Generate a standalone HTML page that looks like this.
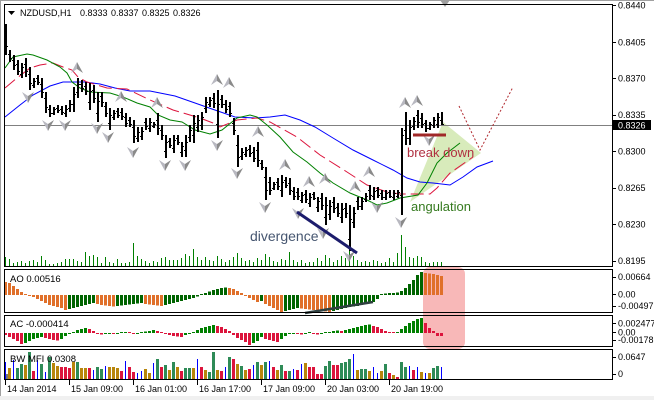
<!DOCTYPE html>
<html><head><meta charset="utf-8"><style>
html,body{margin:0;padding:0;background:#fff;}
svg{display:block;}
text{font-family:"Liberation Sans",Arial,sans-serif;}
</style></head><body>
<svg width="654" height="400" viewBox="0 0 654 400" xmlns="http://www.w3.org/2000/svg">
<defs>
<g id="fu"><polygon points="0,-6 0,1 -6,5" fill="#b8b8c0"/><polygon points="0,-6 6,5 0,1" fill="#8a8a8a"/></g>
<g id="fd"><polygon points="0,6 0,-1 -6,-5" fill="#b8b8c0"/><polygon points="0,6 6,-5 0,-1" fill="#8a8a8a"/></g>
<path id="bars" fill="none" stroke="#000" stroke-width="1" shape-rendering="crispEdges" d="M5.5 24V55M4 33.5h1M6 46.5h1M9.5 50V62M8 54.5h1M10 58.5h1M13.5 55V70M12 60.5h1M14 65.5h1M17.5 60V75M16 64.5h1M18 71.5h1M21.5 63V78M20 74.5h1M22 67.5h1M25.5 58V77M24 64.5h1M26 71.5h1M29.5 67V90M28 74.5h1M30 83.5h1M33.5 78V88M32 85.5h1M34 81.5h1M37.5 75V85M36 78.5h1M38 82.5h1M41.5 78V98M40 84.5h1M42 92.5h1M45.5 92V113M44 98.5h1M46 107.5h1M49.5 105V117M48 109.5h1M50 113.5h1M53.5 107V115M52 113.5h1M54 109.5h1M57.5 105V113M56 108.5h1M58 110.5h1M61.5 106V115M60 109.5h1M62 112.5h1M65.5 105V117M64 113.5h1M66 109.5h1M69.5 100V112M68 108.5h1M70 104.5h1M73.5 87V112M72 104.5h1M74 94.5h1M77.5 78V98M76 92.5h1M78 84.5h1M81.5 80V92M80 84.5h1M82 88.5h1M85.5 82V95M84 86.5h1M86 91.5h1M89.5 83V110M88 102.5h1M90 91.5h1M93.5 85V103M92 90.5h1M94 98.5h1M97.5 92V122M96 113.5h1M98 101.5h1M101.5 92V107M100 96.5h1M102 102.5h1M105.5 102V117M104 106.5h1M106 113.5h1M109.5 108V130M108 123.5h1M110 115.5h1M113.5 110V120M112 117.5h1M114 113.5h1M117.5 108V118M116 111.5h1M118 115.5h1M121.5 108V120M120 112.5h1M122 116.5h1M125.5 113V127M124 117.5h1M126 123.5h1M129.5 117V127M128 120.5h1M130 124.5h1M133.5 120V143M132 127.5h1M134 136.5h1M137.5 127V142M136 138.5h1M138 132.5h1M141.5 127V140M140 136.5h1M142 131.5h1M145.5 118V130M144 122.5h1M146 126.5h1M149.5 118V132M148 128.5h1M150 122.5h1M153.5 122V128M152 126.5h1M154 124.5h1M157.5 113V135M156 120.5h1M158 128.5h1M161.5 125V140M160 130.5h1M162 135.5h1M165.5 135V158M164 151.5h1M166 142.5h1M169.5 138V148M168 141.5h1M170 145.5h1M173.5 135V153M172 148.5h1M174 140.5h1M177.5 135V145M176 138.5h1M178 142.5h1M181.5 142V157M180 152.5h1M182 146.5h1M185.5 135V157M184 150.5h1M186 142.5h1M189.5 125V142M188 137.5h1M190 130.5h1M193.5 115V143M192 135.5h1M194 123.5h1M197.5 115V132M196 127.5h1M198 120.5h1M201.5 112V130M200 125.5h1M202 117.5h1M205.5 97V113M204 108.5h1M206 102.5h1M209.5 97V107M208 104.5h1M210 100.5h1M213.5 93V108M212 98.5h1M214 103.5h1M217.5 90V138M216 124.5h1M218 104.5h1M221.5 95V108M220 99.5h1M222 104.5h1M225.5 100V113M224 104.5h1M226 109.5h1M229.5 102V117M228 106.5h1M230 113.5h1M233.5 118V135M232 123.5h1M234 130.5h1M237.5 135V167M236 145.5h1M238 157.5h1M241.5 148V160M240 156.5h1M242 152.5h1M245.5 147V157M244 154.5h1M246 150.5h1M249.5 145V157M248 149.5h1M250 153.5h1M253.5 147V162M252 152.5h1M254 158.5h1M257.5 142V167M256 150.5h1M258 160.5h1M261.5 160V170M260 163.5h1M262 167.5h1M265.5 167V200M264 177.5h1M266 190.5h1M269.5 177V195M268 182.5h1M270 190.5h1M273.5 182V190M272 188.5h1M274 184.5h1M277.5 178V190M276 182.5h1M278 186.5h1M281.5 175V197M280 190.5h1M282 182.5h1M285.5 177V188M284 180.5h1M286 185.5h1M289.5 178V195M288 183.5h1M290 190.5h1M293.5 187V200M292 191.5h1M294 196.5h1M297.5 188V200M296 192.5h1M298 196.5h1M301.5 192V203M300 200.5h1M302 195.5h1M305.5 190V203M304 194.5h1M306 199.5h1M309.5 193V207M308 203.5h1M310 197.5h1M313.5 192V200M312 194.5h1M314 198.5h1M317.5 197V212M316 207.5h1M318 201.5h1M321.5 193V210M320 198.5h1M322 205.5h1M325.5 197V225M324 217.5h1M326 205.5h1M329.5 200V220M328 214.5h1M330 206.5h1M333.5 197V213M332 202.5h1M334 208.5h1M337.5 203V217M336 207.5h1M338 213.5h1M341.5 203V223M340 217.5h1M342 209.5h1M345.5 203V218M344 208.5h1M346 213.5h1M349.5 205V251M348 239.5h1M350 219.5h1M353.5 207V228M352 222.5h1M354 213.5h1M357.5 197V210M356 201.5h1M358 206.5h1M361.5 197V210M360 206.5h1M362 201.5h1M365.5 193V202M364 199.5h1M366 196.5h1M369.5 185V200M368 190.5h1M370 195.5h1M373.5 187V200M372 196.5h1M374 191.5h1M377.5 187V198M376 190.5h1M378 195.5h1M381.5 190V200M380 193.5h1M382 197.5h1M385.5 190V200M384 197.5h1M386 193.5h1M389.5 190V198M388 192.5h1M390 196.5h1M393.5 190V200M392 197.5h1M394 193.5h1M397.5 190V198M396 196.5h1M398 192.5h1M401.5 128V215M400 195.5h1M402 135.5h1M405.5 112V145M404 130.5h1M406 138.5h1M409.5 120V145M408 138.5h1M410 127.5h1M413.5 117V130M412 126.5h1M414 121.5h1M417.5 110V128M416 115.5h1M418 122.5h1M421.5 113V128M420 118.5h1M422 124.5h1M425.5 120V132M424 123.5h1M426 128.5h1M429.5 122V130M428 128.5h1M430 124.5h1M433.5 117V128M432 125.5h1M434 120.5h1M437.5 113V128M436 124.5h1M438 117.5h1M441.5 112V125M440 120.5h1M442 124.5h1"/>
</defs>
<rect x="0" y="0" width="654" height="400" fill="#fff"/>
<rect x="0" y="396" width="654" height="4" fill="#f0f0f0"/>
<line x1="0" y1="0.5" x2="654" y2="0.5" stroke="#a0a0a0"/>
<line x1="0.5" y1="0" x2="0.5" y2="396" stroke="#a0a0a0"/>
<polygon points="440,0 450,0 445,7" fill="#a0a0a0"/>

<rect x="423" y="267" width="42" height="82" rx="7" fill="#f8b8b8"/>

<polygon points="410,202 443,122 481,153" fill="#d8ebbb"/>

<path fill="none" stroke="#008000" stroke-width="1" shape-rendering="crispEdges" d="M5.5 266V257M9.5 266V259M13.5 266V263M17.5 266V262M21.5 266V261M25.5 266V263M29.5 266V261M33.5 266V260M37.5 266V262M41.5 266V256M45.5 266V260M49.5 266V264M53.5 266V264M57.5 266V263M61.5 266V262M65.5 266V259M69.5 266V259M73.5 266V259M77.5 266V261M81.5 266V262M85.5 266V252M89.5 266V256M93.5 266V255M97.5 266V257M101.5 266V263M105.5 266V257M109.5 266V262M113.5 266V263M117.5 266V259M121.5 266V263M125.5 266V263M129.5 266V262M133.5 266V243M137.5 266V256M141.5 266V259M145.5 266V261M149.5 266V263M153.5 266V261M157.5 266V262M161.5 266V258M165.5 266V257M169.5 266V260M173.5 266V260M177.5 266V260M181.5 266V258M185.5 266V254M189.5 266V256M193.5 266V249M197.5 266V257M201.5 266V260M205.5 266V257M209.5 266V260M213.5 266V261M217.5 266V256M221.5 266V259M225.5 266V262M229.5 266V260M233.5 266V257M237.5 266V253M241.5 266V258M245.5 266V261M249.5 266V260M253.5 266V262M257.5 266V258M261.5 266V260M265.5 266V254M269.5 266V257M273.5 266V261M277.5 266V262M281.5 266V259M285.5 266V260M289.5 266V252M293.5 266V260M297.5 266V262M301.5 266V260M305.5 266V263M309.5 266V262M313.5 266V262M317.5 266V258M321.5 266V261M325.5 266V255M329.5 266V258M333.5 266V262M337.5 266V260M341.5 266V256M345.5 266V258M349.5 266V250M353.5 266V256M357.5 266V260M361.5 266V262M365.5 266V261M369.5 266V262M373.5 266V260M377.5 266V261M381.5 266V263M385.5 266V262M389.5 266V258M393.5 266V262M397.5 266V253M401.5 266V235M405.5 266V247M409.5 266V257M413.5 266V258M417.5 266V256M421.5 266V257M425.5 266V262M429.5 266V263M433.5 266V262M437.5 266V262M441.5 266V262"/>

<line x1="5" y1="125.5" x2="612" y2="125.5" stroke="#808080" stroke-width="1"/>

<polyline fill="none" stroke="#0000ff" stroke-width="1" points="5,117 20,105 33,95 50,86 63,82 85,82 100,84 115,88 130,91 150,91 175,96 195,103 212,109 235,117 255,118 270,117 285,115 300,120 315,127 333,138 353,150 373,160 393,170 407,178 420,182 433,183 450,185 463,177 477,167 493,161"/>
<polyline fill="none" stroke="#dc143c" stroke-width="1" stroke-dasharray="13 5" points="5,88 17,78 30,68 40,65 53,63 63,67 72,70 78,77 87,82 107,88 127,89 150,100 173,110 200,118 213,123 220,127 237,120 257,118 270,122 297,137 320,155 347,172 367,185 387,192 400,194 430,194 437,188 450,173 473,157"/>
<polyline fill="none" stroke="#008000" stroke-width="1" points="5,68 13,57 27,54 33,55 47,60 60,67 67,73 72,82 80,88 90,92 110,93 123,97 137,103 150,107 158,115 170,120 182,122 195,130 210,134 222,130 237,118 250,115 257,117 267,125 280,137 293,152 307,162 320,173 333,183 350,193 367,200 377,205 387,203 400,198 418,195 427,183 437,163 447,153 460,143"/>

<use href="#bars"/>
<use href="#bars" x="1"/>

<use href="#fu" x="77" y="68"/><use href="#fu" x="121" y="97"/><use href="#fu" x="157" y="103"/><use href="#fu" x="217" y="80"/><use href="#fu" x="229" y="83"/><use href="#fu" x="258" y="132"/><use href="#fu" x="285" y="165"/><use href="#fu" x="309" y="182"/><use href="#fu" x="325" y="179"/><use href="#fu" x="355" y="187"/><use href="#fu" x="369" y="172"/><use href="#fu" x="405" y="103"/><use href="#fu" x="417" y="101"/>
<use href="#fd" x="28" y="97"/><use href="#fd" x="48" y="125"/><use href="#fd" x="65" y="125"/><use href="#fd" x="97" y="128"/><use href="#fd" x="108" y="137"/><use href="#fd" x="133" y="152"/><use href="#fd" x="165" y="165"/><use href="#fd" x="185" y="165"/><use href="#fd" x="217" y="145"/><use href="#fd" x="237" y="173"/><use href="#fd" x="265" y="207"/><use href="#fd" x="298" y="213"/><use href="#fd" x="323" y="233"/><use href="#fd" x="349" y="256"/><use href="#fd" x="377" y="207"/><use href="#fd" x="401" y="222"/><use href="#fd" x="429" y="140"/>

<line x1="297" y1="212" x2="357" y2="253" stroke="#1c1c6c" stroke-width="3"/>
<line x1="413" y1="135" x2="446" y2="135" stroke="#a02828" stroke-width="3"/>
<polyline fill="none" stroke="#b0282e" stroke-width="1" stroke-dasharray="2 2" points="459,106 480,150 513,87"/>
<text x="250" y="241" font-size="14" fill="#465670">divergence</text>
<text x="407" y="157" font-size="13" fill="#b03040">break down</text>
<text x="411" y="211" font-size="13" fill="#357a1f">angulation</text>

<path fill="none" stroke="#e0702a" stroke-width="3" shape-rendering="crispEdges" d="M5.5 295V282M9.5 295V283M13.5 295V286M17.5 295V289M21.5 295V292M25.5 295V294M29.5 295V296M33.5 295V297M37.5 295V299M41.5 295V301M45.5 295V303M49.5 295V305M53.5 295V306M57.5 295V307M61.5 295V308M65.5 295V310M97.5 295V304M101.5 295V305M105.5 295V305.5M109.5 295V306M113.5 295V306.5M145.5 295V304M149.5 295V304.5M153.5 295V305M157.5 295V305.5M161.5 295V306M229.5 295V288M233.5 295V289M237.5 295V291M241.5 295V293M245.5 295V296M249.5 295V298M253.5 295V300M257.5 295V302M265.5 295V304M269.5 295V306M273.5 295V308M277.5 295V310M281.5 295V312M301.5 295V308.5M305.5 295V309M309.5 295V309.5M313.5 295V310M317.5 295V310.5M321.5 295V311M325.5 295V311.5M329.5 295V312M425.5 295V273M429.5 295V273.5M433.5 295V274M437.5 295V275M441.5 295V276"/>
<path fill="none" stroke="#006400" stroke-width="3" shape-rendering="crispEdges" d="M69.5 295V309M73.5 295V308M77.5 295V307M81.5 295V306M85.5 295V305M89.5 295V304M93.5 295V303M117.5 295V306M121.5 295V305.5M125.5 295V305M129.5 295V304.5M133.5 295V304M137.5 295V303.5M141.5 295V303M165.5 295V305M169.5 295V304M173.5 295V303M177.5 295V302M181.5 295V301M185.5 295V300M189.5 295V299M193.5 295V298M197.5 295V296.5M201.5 295V294M205.5 295V293M209.5 295V291.5M213.5 295V290M217.5 295V289M221.5 295V288M225.5 295V287.5M261.5 295V301M285.5 295V311M289.5 295V310M293.5 295V309M297.5 295V308M333.5 295V311M337.5 295V310M341.5 295V309M345.5 295V308M349.5 295V307M353.5 295V306.5M357.5 295V306M361.5 295V305M365.5 295V304M369.5 295V303M373.5 295V302M377.5 295V299M381.5 295V294M385.5 295V293.5M389.5 295V293M393.5 295V293M397.5 295V292.5M401.5 295V291M405.5 295V288M409.5 295V284M413.5 295V280M417.5 295V275M421.5 295V272"/>
<line x1="305" y1="313" x2="373" y2="302" stroke="#2f4040" stroke-width="2.5"/>

<path fill="none" stroke="#dc143c" stroke-width="3" shape-rendering="crispEdges" d="M5.5 333V335M9.5 333V337M13.5 333V339M17.5 333V341M21.5 333V344M45.5 333V338M49.5 333V339M53.5 333V340M57.5 333V340.5M89.5 333V329M93.5 333V331M97.5 333V334M101.5 333V334.5M113.5 333V334M129.5 333V332M133.5 333V334M157.5 333V331M161.5 333V332M165.5 333V334M169.5 333V335M173.5 333V336M177.5 333V336.5M181.5 333V337M217.5 333V326M221.5 333V327M225.5 333V329M229.5 333V331M233.5 333V335M237.5 333V338M241.5 333V340M245.5 333V342M249.5 333V345M265.5 333V339M269.5 333V340M273.5 333V341M277.5 333V342M297.5 333V334M301.5 333V334.5M313.5 333V334M317.5 333V334.5M341.5 333V331M373.5 333V326M377.5 333V327M381.5 333V329M385.5 333V331M389.5 333V332M393.5 333V332M425.5 333V323M429.5 333V328M433.5 333V331M437.5 333V336M441.5 333V336"/>
<path fill="none" stroke="#008000" stroke-width="3" shape-rendering="crispEdges" d="M25.5 333V343M29.5 333V341M33.5 333V339M37.5 333V338M41.5 333V337M61.5 333V339M65.5 333V336M69.5 333V334M73.5 333V332M77.5 333V330M81.5 333V329M85.5 333V328M105.5 333V334M109.5 333V334M117.5 333V334M121.5 333V332M125.5 333V332M137.5 333V334M141.5 333V332M145.5 333V331.5M149.5 333V331M153.5 333V330M185.5 333V335M189.5 333V334M193.5 333V332M197.5 333V330M201.5 333V328M205.5 333V327M209.5 333V326M213.5 333V325M253.5 333V343M257.5 333V341M261.5 333V337M281.5 333V339M285.5 333V336M289.5 333V334M293.5 333V334M305.5 333V334M309.5 333V332M321.5 333V334M325.5 333V332M329.5 333V332M333.5 333V331M337.5 333V330.5M345.5 333V330M349.5 333V329M353.5 333V328M357.5 333V327M361.5 333V326M365.5 333V325M369.5 333V324.5M397.5 333V332M401.5 333V329M405.5 333V326M409.5 333V323M413.5 333V321M417.5 333V319M421.5 333V318"/>

<rect x="6" y="374" width="3" height="5" fill="#777"/>
<path fill="none" stroke="#2e8b57" stroke-width="3" shape-rendering="crispEdges" d="M17.5 379V368M21.5 379V364M29.5 379V352M41.5 379V364M49.5 379V357M77.5 379V362M97.5 379V367M101.5 379V369M157.5 379V359M165.5 379V365M173.5 379V362M185.5 379V368M189.5 379V368M209.5 379V372M213.5 379V352M229.5 379V357M241.5 379V366M257.5 379V362M265.5 379V362M281.5 379V365M289.5 379V371M325.5 379V366M329.5 379V361M341.5 379V363M345.5 379V362M349.5 379V359M361.5 379V369M365.5 379V369M385.5 379V364M401.5 379V362M405.5 379V367M433.5 379V368M437.5 379V366"/>
<path fill="none" stroke="#b8860b" stroke-width="3" shape-rendering="crispEdges" d="M9.5 379V368M25.5 379V365M53.5 379V363M57.5 379V366M73.5 379V362M81.5 379V368M85.5 379V368M109.5 379V367M113.5 379V367M117.5 379V368M145.5 379V369M149.5 379V373M169.5 379V370M177.5 379V367M193.5 379V368M205.5 379V370M217.5 379V370M237.5 379V364M245.5 379V370M261.5 379V365M277.5 379V370M305.5 379V363M357.5 379V370M369.5 379V371M381.5 379V371M393.5 379V375M421.5 379V372M429.5 379V373"/>
<path fill="none" stroke="#dc143c" stroke-width="3" shape-rendering="crispEdges" d="M33.5 379V371M61.5 379V367M65.5 379V367M69.5 379V368M89.5 379V368M121.5 379V371M129.5 379V367M133.5 379V372M161.5 379V367M181.5 379V371M201.5 379V367M221.5 379V371M233.5 379V359M249.5 379V369M273.5 379V367M285.5 379V371M297.5 379V370M309.5 379V367M313.5 379V367M317.5 379V374M321.5 379V374M333.5 379V365M337.5 379V365M389.5 379V373M397.5 379V377M413.5 379V370"/>
<path fill="none" stroke="#0000ff" stroke-width="1" shape-rendering="crispEdges" d="M5.5 379V362M13.5 379V360M37.5 379V360M45.5 379V372M93.5 379V370M105.5 379V366M125.5 379V361M137.5 379V373M141.5 379V371M153.5 379V363M197.5 379V359M225.5 379V367M253.5 379V365M269.5 379V361M293.5 379V369M301.5 379V364M353.5 379V354M373.5 379V367M377.5 379V373M409.5 379V366M417.5 379V367M425.5 379V373M441.5 379V367"/>

<g fill="none" stroke="#000" stroke-width="1" shape-rendering="crispEdges">
<rect x="4.5" y="4.5" width="608" height="262"/>
<rect x="4.5" y="269.5" width="608" height="43"/>
<rect x="4.5" y="315.5" width="608" height="31"/>
<rect x="4.5" y="349.5" width="608" height="30"/>
</g>

<path fill="none" stroke="#000" stroke-width="1" shape-rendering="crispEdges" d="M612 5.5h4M612 42.5h4M612 78.5h4M612 115.5h4M612 151.5h4M612 188.5h4M612 224.5h4M612 261.5h4M612 277.5h4M612 294.5h4M612 306.5h4M612 323.5h4M612 332.5h4M612 340.5h4M612 357.5h4M612 374.5h4M5.5 380v5M69.5 380v5M133.5 380v5M197.5 380v5M261.5 380v5M325.5 380v5M389.5 380v5"/>

<g font-size="9" fill="#000">
<text x="618" y="8.5">0.8440</text>
<text x="618" y="45.5">0.8405</text>
<text x="618" y="81.5">0.8370</text>
<text x="618" y="118">0.8335</text>
<text x="618" y="154.5">0.8300</text>
<text x="618" y="191">0.8265</text>
<text x="618" y="227.5">0.8230</text>
<text x="618" y="264">0.8195</text>
<text x="618" y="280">0.00664</text>
<text x="618" y="297.5">0.00</text>
<text x="618" y="309">-0.00497</text>
<text x="618" y="326.5">0.002477</text>
<text x="618" y="335.5">0.00</text>
<text x="618" y="343">-0.00178</text>
<text x="618" y="360">0.0647</text>
<text x="618" y="377">0</text>
</g>
<rect x="613" y="120" width="38" height="10" fill="#000"/>
<text x="618" y="128.5" font-size="9" fill="#fff">0.8326</text>

<g font-size="9" fill="#000">
<text x="7" y="392">14 Jan 2014</text>
<text x="71" y="392">15 Jan 09:00</text>
<text x="135" y="392">16 Jan 01:00</text>
<text x="199" y="392">16 Jan 17:00</text>
<text x="263" y="392">17 Jan 09:00</text>
<text x="327" y="392">20 Jan 03:00</text>
<text x="391" y="392">20 Jan 19:00</text>
</g>

<polygon points="8,11 15,11 11.5,15" fill="#000"/>
<g font-size="9" fill="#000">
<text x="20" y="16">NZDUSD,H1</text>
<text x="80" y="16">0.8333</text>
<text x="111" y="16">0.8337</text>
<text x="142" y="16">0.8325</text>
<text x="173" y="16">0.8326</text>
</g>
<g font-size="9.5" fill="#000">
<text x="10" y="282">AO 0.00516</text>
<text x="10" y="327">AC -0.000414</text>
<text x="10" y="362">BW MFI 0.0308</text>
</g>
</svg>
</body></html>
